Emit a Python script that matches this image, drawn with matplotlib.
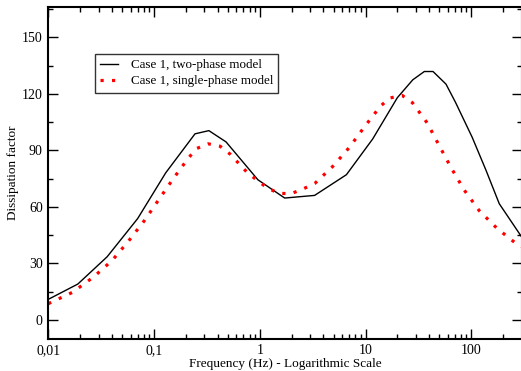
import numpy as np
import matplotlib
matplotlib.use('Agg')
import matplotlib.pyplot as plt
from matplotlib.ticker import FixedLocator, FuncFormatter, LogLocator, MultipleLocator

# two-phase model (solid black)
freq_two = [0.01, 0.019, 0.036, 0.07, 0.129, 0.244, 0.33, 0.48, 0.96, 1.72,
            3.3, 6.6, 11.7, 20, 28, 36, 43.5, 57.7, 71, 102, 138, 184, 300]
diss_two = [10.9, 19.0, 33.5, 53.8, 78.1, 98.8, 100.5, 94.5, 74.4, 64.7,
            66.1, 77.1, 96.1, 118, 127.5, 131.9, 131.9, 125.2, 115.5, 97, 79.4, 61.7, 44]

# single-phase model (red dotted)
freq_one = [0.01, 0.0169, 0.0267, 0.0402, 0.0577, 0.081, 0.111, 0.152, 0.211, 0.253,
            0.325, 0.422, 0.525, 0.766, 1.18, 1.52, 1.97, 2.56, 3.32, 4.92,
            7.06, 9.79, 13.8, 16.9, 22.2, 27.8, 38.5, 49.9, 64.8, 85.9,
            119, 176, 270, 300]
diss_one = [8.6, 14.6, 22.7, 31.6, 42.0, 52.7, 63.9, 75.0, 85.9, 91.0,
            93.5, 92.2, 88.0, 78.1, 70.0, 67.2, 67.0, 69.5, 72.5, 81.6,
            91.7, 102.6, 113.4, 117.8, 119.2, 115.3, 104.4, 92.4, 80.6, 68.9,
            58.0, 48.5, 40.2, 39.0]

xticks = [0.01, 0.1, 1, 10, 100]
xticklabels = ['0,01', '0,1', '1', '10', '100']
yticks = [0, 30, 60, 90, 120, 150]

plt.rcParams['font.family'] = ['Liberation Serif', 'DejaVu Serif']

fig = plt.figure(figsize=(5.21, 3.71), dpi=100)
W, H = 521, 371
ax = fig.add_axes([48.3 / W, (H - 338.7) / H, (521.7 - 48.3) / W, (338.7 - 7.3) / H])

ax.plot(freq_two, diss_two, color='black', lw=1.0, label='Case 1, two-phase model')
ax.plot(freq_one, diss_one, color='red', lw=2.3, linestyle=(0, (1, 2.6)),
        label='Case 1, single-phase model')

ax.set_xscale('log')
ax.set_xlim(0.01, 300)
ax.set_ylim(-10, 166)

ax.xaxis.set_major_locator(FixedLocator(xticks))
ax.xaxis.set_major_formatter(FuncFormatter(lambda v, p: xticklabels[xticks.index(v)] if v in xticks else ''))
ax.xaxis.set_minor_locator(LogLocator(base=10, subs=np.arange(2, 10)))
ax.yaxis.set_major_locator(FixedLocator(yticks))
ax.yaxis.set_minor_locator(MultipleLocator(15))

ax.tick_params(which='both', direction='in', top=True, right=True, labelsize=10, width=1.0)
ax.tick_params(which='major', length=7.2, pad=4)
ax.tick_params(which='minor', length=3.6)
for s in ax.spines.values():
    s.set_linewidth(1.5)

ax.set_xlabel('Frequency (Hz) - Logarithmic Scale', fontsize=9.5, labelpad=0.5)
ax.set_ylabel('Dissipation factor', fontsize=9.5, labelpad=2)

leg = ax.legend(loc='upper left', bbox_to_anchor=((95 - 48.3) / 473.4, (338.7 - 53.5) / 331.4),
                fontsize=9.4, frameon=True, fancybox=False, edgecolor='black',
                handlelength=1.35, handletextpad=0.95, borderpad=0.42, labelspacing=0.3,
                borderaxespad=0)
leg.get_frame().set_linewidth(1.0)

fig.savefig('out.png', dpi=100)
